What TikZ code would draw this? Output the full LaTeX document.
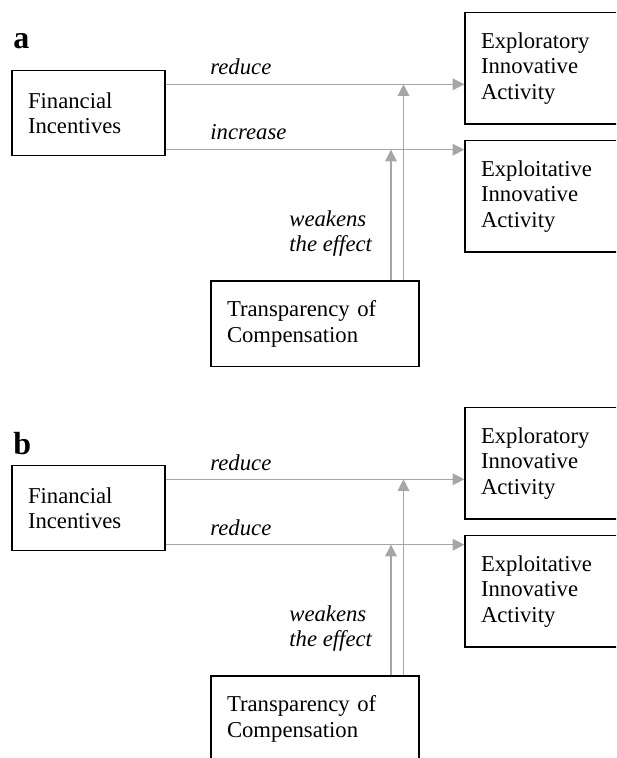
\documentclass[tikz,border=0pt]{standalone}
\usepackage{fontspec}
\setmainfont{Liberation Serif}
\usetikzlibrary{arrows.meta}
\definecolor{flowgray}{RGB}{166,166,166}
\tikzset{
  box/.style={
    draw,
    rectangle,
    line width=0.7pt,
    inner xsep=8pt,
    inner ysep=0pt,
    align=left,
    font=\fontsize{11.35}{12.65}\selectfont
  },
  flow/.style={
    -{Triangle[length=5.8pt,width=5.8pt]},
    draw=flowgray,
    line width=0.65pt
  },
  effect/.style={
    inner sep=0pt,
    font=\fontsize{11.35}{12.65}\selectfont\itshape
  },
  panel/.style={
    inner sep=0pt,
    font=\fontsize{16}{16}\selectfont\bfseries
  },
}

\begin{document}
\begin{tikzpicture}[x=0.5pt, y=-0.5pt]
  \useasboundingbox (0,0) rectangle (616,758);
  \clip (0,0) rectangle (616,758);
  % one panel per letter
  \foreach \p/\dy/\eff/\ly in {a/0/increase/48.5, b/395/reduce/59} {
    \begin{scope}[shift={(0,\dy)}]
      \node[panel, anchor=base west] (lbl\p) at (13,\ly) {\p};
      \node[box, text width=60.5pt, minimum height=42.5pt] (fin\p) at (88.5,113.2) {Financial\\Incentives};
      \node[box, text width=71.5pt, minimum height=55.7pt] (expl\p) at (552.5,68.3) {Exploratory\\Innovative\\Activity};
      \node[box, text width=71.5pt, minimum height=55.7pt] (exploit\p) at (552.5,196.3) {Exploitative\\Innovative\\Activity};
      \node[box, text width=88pt, minimum height=42.9pt] (trans\p) at (315,323.8) {Transparency of\\Compensation};
      \node[effect, anchor=base west] (red\p) at (210,75) {reduce};
      \node[effect, anchor=base west] (eff\p) at (210,140) {\eff};
      \node[effect, anchor=north west, align=left] (weak\p) at (289,210) {weakens\\the effect};
      \draw[flow] ([yshift=14.45pt]fin\p.east) coordinate (r\p) -- (r\p -| expl\p.west);
      \draw[flow] ([yshift=-18.25pt]fin\p.east) coordinate (s\p) -- (s\p -| exploit\p.west);
      \draw[flow] ([xshift=38pt]trans\p.north) -- ([xshift=38pt]trans\p.north |- s\p);
      \draw[flow] ([xshift=44.25pt]trans\p.north) -- ([xshift=44.25pt]trans\p.north |- r\p);
    \end{scope}
  }
\end{tikzpicture}
\end{document}
